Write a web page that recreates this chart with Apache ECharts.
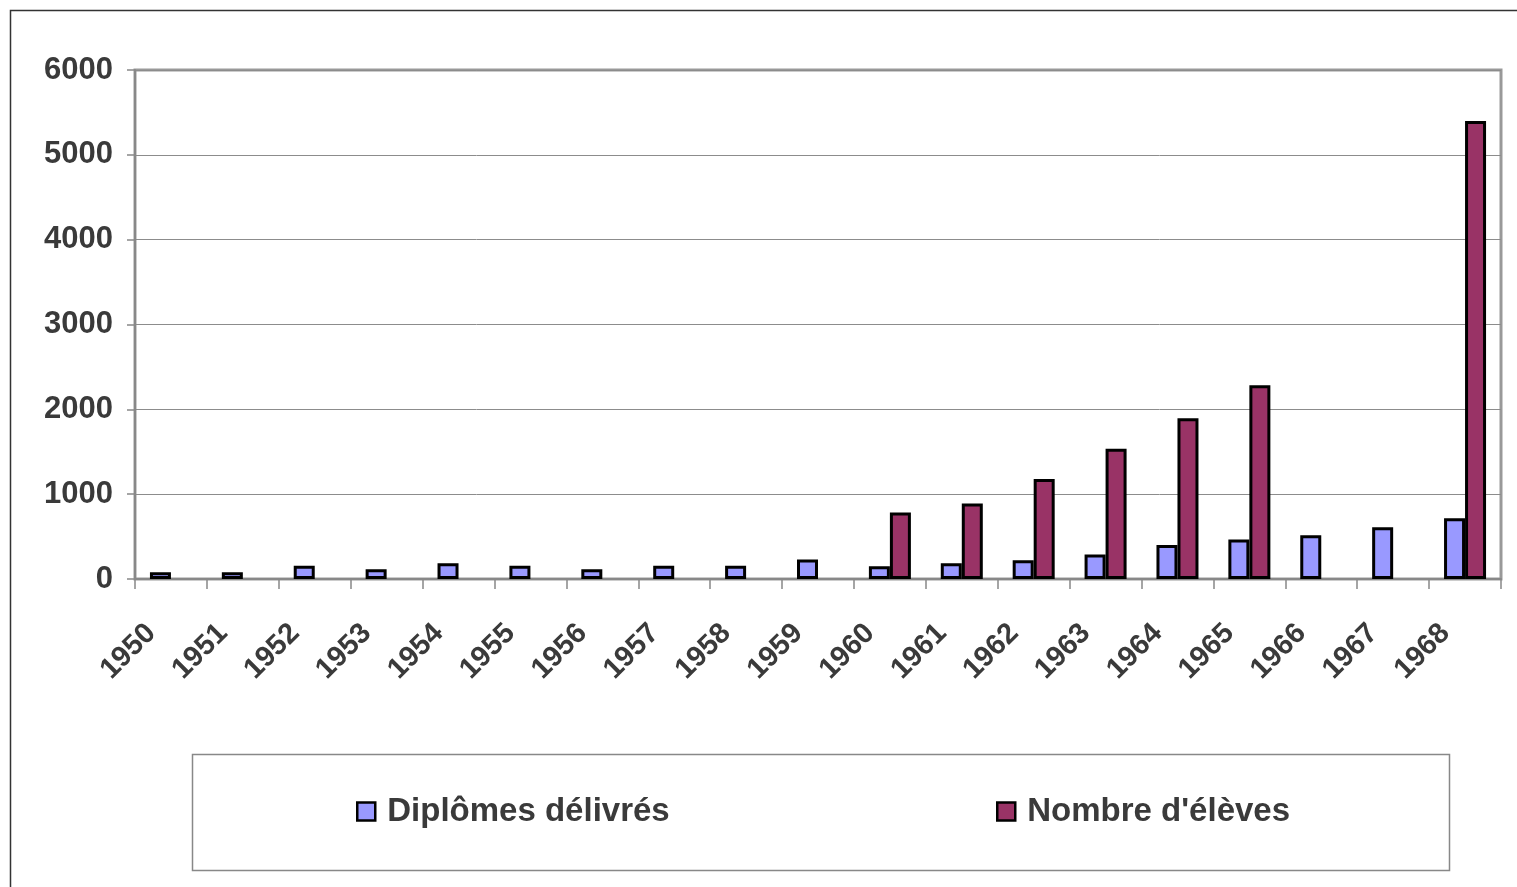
<!DOCTYPE html>
<html>
<head>
<meta charset="utf-8">
<script src="https://cdn.jsdelivr.net/npm/echarts@6/dist/echarts.min.js"></script>
<style>
html,body{margin:0;padding:0;background:#fff;}
#chart{width:1517px;height:887px;}
</style>
</head>
<body>
<div id="chart"></div>
<script>
const years = ['1950','1951','1952','1953','1954','1955','1956','1957','1958','1959','1960','1961','1962','1963','1964','1965','1966','1967','1968'];
const diplomes = [80, 80, 155, 115, 185, 155, 115, 155, 155, 230, 150, 185, 220, 290, 400, 465, 515, 610, 715];
const eleves = [null, null, null, null, null, null, null, null, null, null, 785, 890, 1180, 1535, 1895, 2285, null, null, 5400];
const seriesNames = ['Diplômes délivrés', "Nombre d'élèves"];
const yTicks = { min: 0, max: 6000, interval: 1000 };

const FONT = "'Liberation Sans', Arial, sans-serif";
const TXT = '#3a3a3a';

const legendText = { fontFamily: FONT, fontWeight: 'bold', fontSize: 33, color: TXT, padding: [0, 0, 0, 7] };

const chart = echarts.init(document.getElementById('chart'), null, { renderer: 'canvas' });
chart.setOption({
  animation: false,
  backgroundColor: '#ffffff',
  grid: {
    left: 135, right: 16, top: 70, bottom: 308,
    show: true, borderColor: '#999999', borderWidth: 3, backgroundColor: 'transparent'
  },
  legend: [
    {
      data: [{ name: seriesNames[0], icon: 'rect' }], left: 351, top: 790,
      itemWidth: 18, itemHeight: 18, itemGap: 10,
      itemStyle: { borderColor: '#000', borderWidth: 2.5 },
      textStyle: legendText,
      selectedMode: false
    },
    {
      data: [{ name: seriesNames[1], icon: 'rect' }], left: 991, top: 790,
      itemWidth: 18, itemHeight: 18, itemGap: 10,
      itemStyle: { borderColor: '#000', borderWidth: 2.5 },
      textStyle: legendText,
      selectedMode: false
    }
  ],
  xAxis: {
    type: 'category',
    data: years,
    axisLine: { lineStyle: { color: '#888888', width: 2 } },
    axisTick: { show: true, length: 10, lineStyle: { color: '#888888', width: 1.5 } },
    axisLabel: {
      rotate: 45, interval: 0, margin: 30, padding: [0, 28, 0, 0],
      fontFamily: FONT, fontWeight: 'bold', fontSize: 29, color: TXT
    },
    splitLine: { show: false }
  },
  yAxis: {
    type: 'value',
    min: yTicks.min, max: yTicks.max, interval: yTicks.interval,
    axisLine: { show: true, lineStyle: { color: '#888888', width: 2 } },
    axisTick: { show: true, length: 8, lineStyle: { color: '#888888', width: 1.5 } },
    axisLabel: {
      margin: 22, fontFamily: FONT, fontWeight: 'bold', fontSize: 31, color: TXT,
      formatter: function (v) { return String(v); }
    },
    splitLine: { show: true, lineStyle: { color: '#8c8c8c', width: 1 } }
  },
  series: [
    {
      name: seriesNames[0], type: 'bar', data: diplomes,
      barWidth: 21, barGap: '0%',
      itemStyle: { color: '#9999FF', borderColor: '#000000', borderWidth: 3 }
    },
    {
      name: seriesNames[1], type: 'bar', data: eleves,
      barWidth: 21, barGap: '0%',
      itemStyle: { color: '#993366', borderColor: '#000000', borderWidth: 3 }
    }
  ],
  graphic: [
    {
      type: 'rect', silent: true, z: -1,
      shape: { x: 10.5, y: 10.5, width: 1600, height: 1000 },
      style: { fill: 'none', stroke: '#333333', lineWidth: 1.5 }
    },
    {
      type: 'rect', silent: true, z: -1,
      shape: { x: 192.5, y: 754.5, width: 1257, height: 116 },
      style: { fill: 'none', stroke: '#888888', lineWidth: 1.5 }
    }
  ]
});
</script>
</body>
</html>
